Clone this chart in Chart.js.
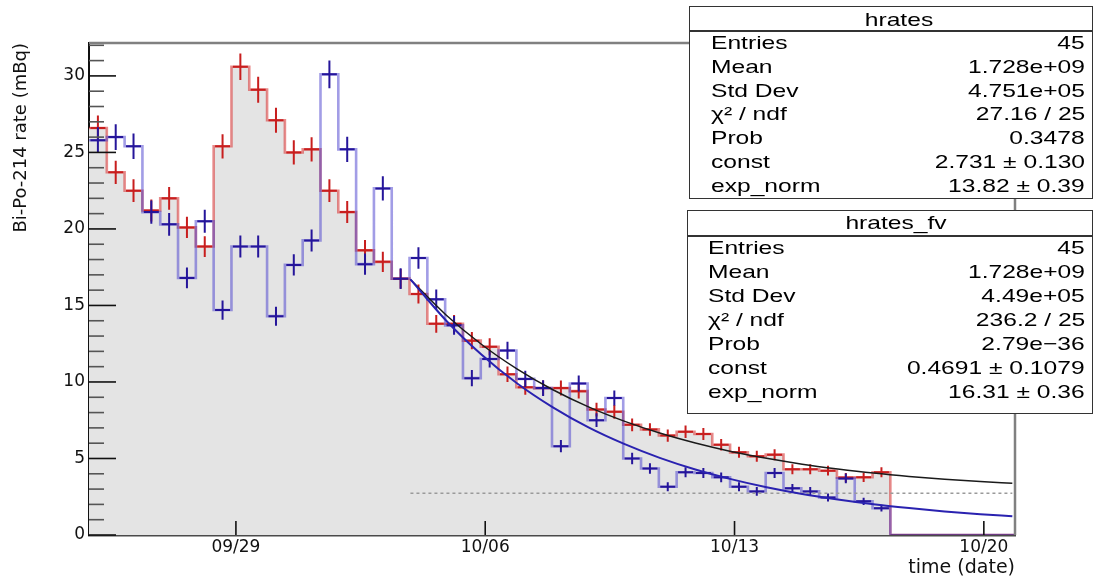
<!DOCTYPE html>
<html>
<head>
<meta charset="utf-8">
<script src="https://cdn.jsdelivr.net/npm/chart.js@4.4.1/dist/chart.umd.min.js"></script>
<style>
  html, body { margin: 0; padding: 0; background: #fff; overflow: hidden; }
  #wrap { position: relative; width: 1095px; height: 578px; overflow: hidden; }
  #c { position: absolute; left: 0; top: 0; }
  .box { position: absolute; border: 1.5px solid #333; background: #fff; box-sizing: border-box; }
  .sep { position: absolute; height: 1.5px; background: #333; }
  .txt { position: absolute; font-family: "Liberation Sans", Arial, sans-serif; font-size: 18.5px;
         line-height: 18.5px; color: #000; white-space: nowrap; }
</style>
</head>
<body>
<div id="wrap">
  <canvas id="c" width="1095" height="578"></canvas>
</div>
<script>
// ---------------- data ----------------
// time in days relative to 09/29 00:00; histogram of 52 bins of half a day
const histStartDay = -4.125;
const binDays = 0.5;
const tickDays = [0, 7, 14, 21];
const tickLabels = ['09/29', '10/06', '10/13', '10/20'];

// hrates (red, filled)
const rateHrates = [26.6, 23.7, 22.5, 21.2, 22.0, 20.1, 18.85, 25.4, 30.6, 29.1,
                    27.1, 25.0, 25.2, 22.5, 21.1, 18.6, 17.85, 16.75, 15.75, 13.8,
                    13.8, 12.7, 12.3, 10.5, 9.65, 9.6, 9.6, 9.4, 8.2, 8.05,
                    7.2, 6.9, 6.5, 6.75, 6.6, 5.9, 5.4, 5.15, 5.25, 4.3,
                    4.3, 4.2, 3.75, 3.77, 4.1, 0, 0, 0, 0, 0, 0, 0];
const errHrates = [0.81, 0.76, 0.74, 0.72, 0.74, 0.70, 0.68, 0.79, 0.87, 0.85,
                   0.82, 0.79, 0.79, 0.74, 0.72, 0.68, 0.66, 0.64, 0.62, 0.58,
                   0.58, 0.56, 0.55, 0.51, 0.49, 0.49, 0.49, 0.48, 0.45, 0.45,
                   0.42, 0.41, 0.40, 0.41, 0.40, 0.38, 0.36, 0.36, 0.36, 0.33,
                   0.33, 0.32, 0.30, 0.30, 0.32];

// hrates_fv (blue)
const rateFV = [25.8, 26.0, 25.4, 21.1, 20.3, 16.8, 20.5, 14.7, 18.85, 18.85,
                14.3, 17.65, 19.25, 30.1, 25.2, 17.7, 22.65, 16.75, 18.1, 15.4,
                13.7, 10.25, 11.5, 12.05, 10.2, 9.6, 5.8, 9.9, 7.5, 8.95,
                5.0, 4.35, 3.15, 4.1, 4.05, 3.77, 3.15, 2.85, 4.05, 3.05,
                2.85, 2.45, 3.7, 2.2, 1.75, 0, 0, 0, 0, 0, 0, 0];
const errFV = [0.84, 0.84, 0.83, 0.76, 0.74, 0.68, 0.75, 0.63, 0.72, 0.72,
               0.62, 0.69, 0.72, 0.91, 0.83, 0.69, 0.79, 0.68, 0.70, 0.65,
               0.61, 0.53, 0.56, 0.57, 0.53, 0.51, 0.40, 0.52, 0.45, 0.49,
               0.37, 0.34, 0.29, 0.33, 0.33, 0.32, 0.29, 0.28, 0.33, 0.29,
               0.28, 0.26, 0.32, 0.24, 0.22];

// fitted curves
const fitDays   = [4.9, 5.9, 6.9, 7.9, 8.9, 9.9, 10.9, 11.9, 12.9, 13.9, 14.9, 15.9, 16.9, 17.9, 18.9, 19.9, 20.9, 21.8];
const fitHrates = [16.69, 14.38, 12.45, 10.84, 9.49, 8.37, 7.44, 6.66, 6.01, 5.46, 5.01, 4.63, 4.32, 4.05, 3.83, 3.65, 3.50, 3.38];
const fitFV     = [16.71, 14.02, 11.78, 9.90, 8.34, 7.03, 5.95, 5.04, 4.28, 3.65, 3.12, 2.68, 2.32, 2.01, 1.76, 1.54, 1.36, 1.23];
const constHrates = 2.731;

// stat boxes
const statLabels = ['Entries', 'Mean', 'Std Dev', 'χ² / ndf', 'Prob', 'const', 'exp_norm'];
const statHrates = ['45', '1.728e+09', '4.751e+05', '27.16 / 25', '0.3478', '2.731 ± 0.130', '13.82 ± 0.39'];
const statFV     = ['45', '1.728e+09', '4.49e+05', '236.2 / 25', '2.79e−36', '0.4691 ± 0.1079', '16.31 ± 0.36'];

// ---------------- builders ----------------
function stepPoints(vals) {
  const pts = vals.map((v, i) => ({x: histStartDay + i * binDays, y: v}));
  pts.push({x: histStartDay + vals.length * binDays, y: vals[vals.length - 1]});
  return pts;
}
function crossPoints(vals, errs) {
  const pts = [];
  errs.forEach((e, i) => {
    const v = vals[i];
    if (!(v > 0)) return;
    const c = histStartDay + (i + 0.5) * binDays;
    pts.push({x: c, y: v - e}, {x: c, y: v + e}, {x: c, y: null},
             {x: c - 0.42 * binDays, y: v}, {x: c + 0.42 * binDays, y: v}, {x: c, y: null});
  });
  return pts;
}
function curvePoints(xs, ys) { return xs.map((x, i) => ({x: x, y: ys[i]})); }

const frameTicks = {
  id: 'frameTicks',
  afterDatasetsDraw(chart) {
    const {ctx, chartArea: a, scales: {x, y}} = chart;
    ctx.save();
    y.ticks.forEach(t => {
      if (Math.abs(t.value - Math.round(t.value)) > 1e-6) return;
      const py = y.getPixelForValue(t.value);
      const major = Math.round(t.value) % 5 === 0;
      ctx.strokeStyle = major ? '#111' : '#555';
      ctx.lineWidth = 1.6;
      ctx.beginPath(); ctx.moveTo(a.left, py); ctx.lineTo(a.left + (major ? 27 : 15), py); ctx.stroke();
    });
    x.ticks.forEach(t => {
      const px = x.getPixelForValue(t.value);
      ctx.strokeStyle = '#111'; ctx.lineWidth = 1.6;
      ctx.beginPath(); ctx.moveTo(px, a.bottom); ctx.lineTo(px, a.bottom - 14); ctx.stroke();
    });
    ctx.strokeStyle = '#808080'; ctx.lineWidth = 2.5;
    ctx.beginPath(); ctx.moveTo(a.left, a.top); ctx.lineTo(a.right, a.top); ctx.lineTo(a.right, a.bottom); ctx.stroke();
    ctx.restore();
  }
};

Chart.defaults.font.family = '"DejaVu Sans", sans-serif';
Chart.defaults.color = '#000';

new Chart(document.getElementById('c'), {
  type: 'line',
  data: {
    datasets: [
      { label: 'hrates', data: stepPoints(rateHrates), stepped: true, fill: 'origin',
        backgroundColor: '#e4e4e4', borderColor: 'rgba(215,45,45,0.55)', borderWidth: 2.6,
        pointRadius: 0, order: 10 },
      { label: 'hrates_fv', data: stepPoints(rateFV), stepped: true, fill: false,
        borderColor: 'rgba(70,60,205,0.5)', borderWidth: 2.6, pointRadius: 0, order: 9 },
      { label: 'hrates errors', data: crossPoints(rateHrates, errHrates), fill: false,
        borderColor: '#c81e1e', borderWidth: 2, pointRadius: 0, spanGaps: false, order: 8 },
      { label: 'hrates_fv errors', data: crossPoints(rateFV, errFV), fill: false,
        borderColor: '#25159a', borderWidth: 2, pointRadius: 0, spanGaps: false, order: 7 },
      { label: 'const', data: [{x: fitDays[0], y: constHrates}, {x: fitDays[fitDays.length - 1], y: constHrates}],
        fill: false, borderColor: '#9a9a9a', borderWidth: 1.6, borderDash: [3, 3], pointRadius: 0, order: 6 },
      { label: 'fit hrates', data: curvePoints(fitDays, fitHrates), fill: false,
        borderColor: '#1a1a1a', borderWidth: 1.5, pointRadius: 0, cubicInterpolationMode: 'monotone', order: 5 },
      { label: 'fit hrates_fv', data: curvePoints(fitDays, fitFV), fill: false,
        borderColor: '#2a22b0', borderWidth: 2, pointRadius: 0, cubicInterpolationMode: 'monotone', order: 4 }
    ]
  },
  options: {
    responsive: false,
    devicePixelRatio: 1,
    animation: false,
    events: [],
    layout: { padding: { left: 0, top: 43, right: 80, bottom: 0 } },
    plugins: { legend: { display: false }, tooltip: { enabled: false } },
    scales: {
      x: {
        type: 'linear',
        min: histStartDay,
        max: histStartDay + rateHrates.length * binDays,
        afterBuildTicks: (s) => { s.ticks = tickDays.map(v => ({value: v})); },
        afterFit: (s) => { s.height = 43; },
        grid: { display: false, drawTicks: false },
        border: { display: true, color: '#4a4a4a', width: 2.5 },
        ticks: {
          autoSkip: false, maxRotation: 0, padding: 2,
          font: { size: 17 }, color: '#111',
          callback: (v) => { const i = tickDays.indexOf(v); return i >= 0 ? tickLabels[i] : ''; }
        },
        title: { display: true, text: 'time (date)', align: 'end', color: '#111',
                 font: { size: 19, lineHeight: 1 }, padding: { top: 0, bottom: 0 } }
      },
      y: {
        type: 'linear',
        min: 0,
        max: 32.15,
        afterFit: (s) => { s.width = 89; },
        grid: { display: false, drawTicks: false },
        border: { display: true, color: '#111', width: 2 },
        ticks: {
          stepSize: 1, autoSkip: false, includeBounds: false, padding: 4,
          font: { size: 17 }, color: '#111',
          callback: (v) => (Math.round(v) % 5 === 0 ? String(Math.round(v)) : '')
        },
        title: { display: true, text: 'Bi-Po-214 rate (mBq)', align: 'end', color: '#111',
                 font: { size: 18 }, padding: { top: 11, bottom: 0 } }
      }
    }
  },
  plugins: [frameTicks]
});

// ---------------- stat boxes (HTML text) ----------------
const wrap = document.getElementById('wrap');
function addEl(cls, css, text) {
  const d = document.createElement('div');
  d.className = cls;
  Object.assign(d.style, css);
  if (text !== undefined) d.textContent = text;
  wrap.appendChild(d);
  return d;
}
function statBox(cfg, title, values) {
  addEl('box', {left: cfg.left + 'px', top: cfg.top + 'px', width: cfg.width + 'px', height: cfg.height + 'px'});
  addEl('sep', {left: cfg.left + 'px', top: cfg.sep + 'px', width: cfg.width + 'px'});
  const sx = 'scaleX(1.33)';
  addEl('txt', {left: (cfg.titleX - 200) + 'px', width: '400px', textAlign: 'center',
                top: (cfg.titleBase - 15.7) + 'px', transform: sx, transformOrigin: '50% 0'}, title);
  statLabels.forEach((lab, i) => {
    const top = cfg.firstBase + i * cfg.step - 15.7;
    addEl('txt', {left: cfg.labelX + 'px', top: top + 'px', transform: sx, transformOrigin: '0 0'}, lab);
    addEl('txt', {right: (1095 - cfg.valueX) + 'px', top: top + 'px', transform: sx, transformOrigin: '100% 0'}, values[i]);
  });
}
statBox({left: 689, top: 6, width: 404, height: 193, sep: 30, titleX: 899, titleBase: 27,
         labelX: 711, valueX: 1085, firstBase: 50, step: 23.7}, 'hrates', statHrates);
statBox({left: 687, top: 210, width: 406, height: 204, sep: 235, titleX: 896, titleBase: 230,
         labelX: 708, valueX: 1085, firstBase: 255, step: 24.0}, 'hrates_fv', statFV);
</script>
</body>
</html>
